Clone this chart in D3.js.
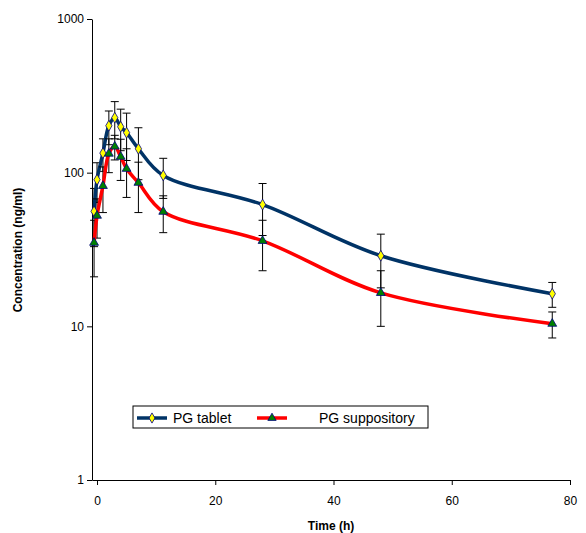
<!DOCTYPE html>
<html><head><meta charset="utf-8">
<script src="https://cdn.jsdelivr.net/npm/d3@7"></script>
<style>body{margin:0;background:#fff;font-family:"Liberation Sans",Arial,sans-serif}</style>
</head><body><div id="chart"></div>
<script>
// data
const times = [-0.5, 0, 1, 2, 3, 4, 5, 7, 11.2, 28, 48, 77];
const tablet = [56, 90, 134, 202, 228, 199, 182, 143, 96, 62, 28.8, 16.3];
const tabletSd = [23, 26, 32, 50, 62, 60, 62, 53, 28, 23, 11, 3];
const supp = [35, 52.5, 82, 133, 148, 127, 106, 86, 55.7, 36, 16.5, 10.4];
const suppSd = [14, 15, 27, 33, 27, 38, 37, 31, 15, 13, 6.5, 2];
const xTicks = [0, 20, 40, 60, 80];
const yTicks = [1, 10, 100, 1000];

const width = 586, height = 533;
const svg = d3.select('#chart').append('svg').attr('width', width).attr('height', height);

const x = d3.scaleLinear().domain([-0.85, 80]).range([92, 570]);
const y = d3.scaleLog().domain([1, 1000]).range([480, 19]);

svg.append('g').attr('transform', 'translate(0,480)')
  .call(d3.axisBottom(x).tickValues(xTicks).tickSize(5).tickSizeOuter(0))
  .call(g => g.selectAll('text').attr('font-size', 12).attr('dy', '1.4em'));
svg.append('g').attr('transform', 'translate(92,0)')
  .call(d3.axisLeft(y).tickValues(yTicks).tickFormat(d3.format('d')).tickSize(5).tickSizeOuter(0))
  .call(g => g.selectAll('text').attr('font-size', 12));
svg.selectAll('.domain, .tick line').attr('stroke', '#000');
svg.selectAll('.tick text').attr('fill', '#000').attr('font-family', '"Liberation Sans",Arial,sans-serif');

svg.append('text').attr('x', 331).attr('y', 530).attr('text-anchor', 'middle')
  .attr('font-size', 12).attr('font-weight', 'bold').text('Time (h)');
svg.append('text').attr('transform', 'translate(22,250) rotate(-90)').attr('text-anchor', 'middle')
  .attr('font-size', 12).attr('font-weight', 'bold').text('Concentration (ng/ml)');

const series = [
  {vals: tablet, sd: tabletSd, color: '#003366', marker: 'diamond', fill: '#ffff00'},
  {vals: supp, sd: suppSd, color: '#ff0000', marker: 'triangle', fill: '#008000'}
];

series.forEach(s => {
  const pts = times.map((t, i) => ({t, v: s.vals[i], sd: s.sd[i]}));
  const eb = svg.append('g').attr('stroke', '#000').attr('stroke-width', 1);
  pts.forEach(p => {
    const lo = Math.max(p.v - p.sd, 1), hi = p.v + p.sd;
    eb.append('line').attr('x1', x(p.t)).attr('x2', x(p.t)).attr('y1', y(lo)).attr('y2', y(hi));
    [lo, hi].forEach(e => eb.append('line').attr('x1', x(p.t) - 4).attr('x2', x(p.t) + 4).attr('y1', y(e)).attr('y2', y(e)));
  });
  svg.append('path').datum(pts).attr('fill', 'none').attr('stroke', s.color).attr('stroke-width', 3.5)
    .attr('d', d3.line().x(d => x(d.t)).y(d => y(d.v)).curve(d3.curveCatmullRom.alpha(0.5)));
});
series.forEach(s => {
  const sym = d3.symbol().type(s.marker === 'diamond' ? d3.symbolDiamond : d3.symbolTriangle).size(34);
  svg.append('g').selectAll('path').data(times).join('path')
    .attr('transform', (t, i) => `translate(${x(t)},${y(s.vals[i])})`)
    .attr('d', sym).attr('fill', s.fill).attr('stroke', '#000080').attr('stroke-width', 0.8);
});

// legend
const lg = svg.append('g');
lg.append('rect').attr('x', 133).attr('y', 406).attr('width', 295).attr('height', 22)
  .attr('fill', '#fff').attr('stroke', '#000');
const names = ['PG tablet', 'PG suppository'];
const lx = [137, 257], tx = [173, 319];
series.forEach((s, i) => {
  lg.append('line').attr('x1', lx[i]).attr('x2', lx[i] + 30).attr('y1', 418).attr('y2', 418)
    .attr('stroke', s.color).attr('stroke-width', 3.5);
  lg.append('path').attr('transform', `translate(${lx[i] + 15},418)`)
    .attr('d', d3.symbol().type(i ? d3.symbolTriangle : d3.symbolDiamond).size(30))
    .attr('fill', s.fill).attr('stroke', '#000080').attr('stroke-width', 0.8);
  lg.append('text').attr('x', tx[i]).attr('y', 423).attr('font-size', 14).text(names[i]);
});
</script></body></html>
